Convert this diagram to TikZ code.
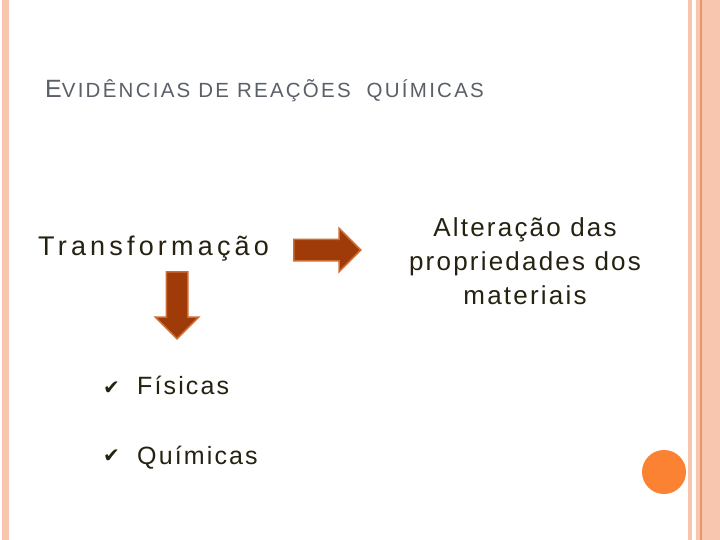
\documentclass[tikz,border=0pt]{standalone}
\usepackage{fontspec}
\setmainfont{Liberation Sans}
\newfontfamily\symfont{DejaVu Sans}
\usetikzlibrary{positioning,shapes.arrows}
\definecolor{stripepink}{RGB}{248,198,174}
\definecolor{stripeline}{RGB}{232,150,100}
\definecolor{dotorange}{RGB}{251,130,51}
\definecolor{titlegray}{RGB}{90,95,104}
\definecolor{textdark}{RGB}{38,34,18}
\definecolor{arrowfill}{RGB}{158,59,8}
\definecolor{arrowedge}{RGB}{206,108,52}

\begin{document}
\begin{tikzpicture}[x=1pt,y=-1pt,
  label/.style={anchor=base west, inner sep=0pt, text=textdark},
  bigarrow/.style={single arrow, draw=arrowedge, fill=arrowfill, line width=1.5pt,
              minimum height=67pt, inner xsep=0pt, inner ysep=10pt,
              single arrow head extend=11pt, single arrow tip angle=90}]
  \useasboundingbox[fill=white] (0,0) rectangle (720,540);
  % page frame
  \fill[stripepink] (2,0) rectangle (9,540);
  \fill[stripepink] (688,0) rectangle (692,540);
  \fill[stripepink] (696,0) rectangle (720,540);
  \fill[stripeline] (700,0) rectangle (702,540);
  \fill[dotorange] (664,472) circle (22);
  % title
  \node[anchor=base west, inner sep=0pt, text=titlegray] (title) at (45,98)
    {\addfontfeature{LetterSpace=11}\fontsize{25}{25}\selectfont E\fontsize{20.5}{20.5}\selectfont VIDÊNCIAS DE REAÇÕES\ \ QUÍMICAS};
  % content
  \node[label] (transf) at (38,255)
    {\fontsize{27}{27}\selectfont\addfontfeature{LetterSpace=15.5}Transformação};
  \node[bigarrow, anchor=west] (setadir) at (293,250) {};
  \node[bigarrow, rotate=-90, anchor=west] (setabaixo) at (177,271) {};
  \node[anchor=base, inner sep=0pt, text=textdark, align=center,
        font=\fontsize{26}{34}\selectfont\addfontfeature{LetterSpace=8.5}] (alter) at (525,304)
    {Alteração das\\propriedades dos\\materiais};
  \node[label] (fis) at (137,394)
    {\fontsize{25}{25}\selectfont\addfontfeature{LetterSpace=8.5}Físicas};
  \node[label] (qui) at (137,464)
    {\fontsize{25}{25}\selectfont\addfontfeature{LetterSpace=8.5}Químicas};
  \node[label, anchor=base east, font=\symfont\fontsize{20}{20}\selectfont] (chk1) at (120,394) {✔};
  \node[label, anchor=base east, font=\symfont\fontsize{20}{20}\selectfont] (chk2) at (120,462) {✔};
\end{tikzpicture}
\end{document}
